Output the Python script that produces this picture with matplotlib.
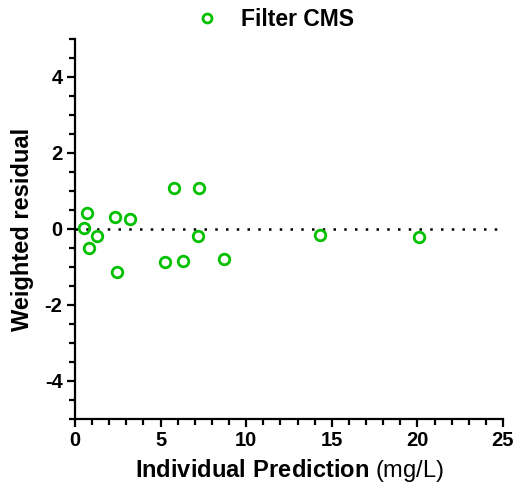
import matplotlib
matplotlib.use("Agg")
import matplotlib.pyplot as plt
from matplotlib.ticker import MultipleLocator

plt.rcParams['font.family'] = ['Liberation Sans', 'DejaVu Sans']
plt.rcParams['mathtext.fontset'] = 'custom'
plt.rcParams['mathtext.bf'] = 'Liberation Sans:bold'
plt.rcParams['mathtext.rm'] = 'Liberation Sans'
plt.rcParams['axes.unicode_minus'] = False

pred = [0.54, 0.68, 0.84, 1.29, 2.32, 2.45, 3.20, 5.26, 5.78, 6.31, 7.17, 7.26, 8.72, 14.29, 20.09]
wres = [0.03, 0.41, -0.50, -0.18, 0.31, -1.12, 0.27, -0.87, 1.07, -0.85, -0.18, 1.07, -0.78, -0.17, -0.22]
series_name = "Filter CMS"
green = "#00C000"

fig = plt.figure(figsize=(5.21, 4.94), dpi=100)
ax = fig.add_axes([75/521, 1-419/494, 428/521, 380/494])

ax.axhline(0, color='black', linestyle=(0, (1, 3.3)), linewidth=1.8, zorder=1)
ax.plot(pred, wres, linestyle='none', marker='o', markersize=7.6, markerfacecolor='none',
        markeredgecolor=green, markeredgewidth=2.0, label=series_name, zorder=3, clip_on=False)

ax.set_xlim(0, 25)
ax.set_ylim(-5, 5)
ax.xaxis.set_major_locator(MultipleLocator(5))
ax.xaxis.set_minor_locator(MultipleLocator(1))
ax.yaxis.set_major_locator(MultipleLocator(2))
ax.yaxis.set_minor_locator(MultipleLocator(0.5))

for s in ['top', 'right']:
    ax.spines[s].set_visible(False)
for s in ['left', 'bottom']:
    ax.spines[s].set_linewidth(1.6)

ax.tick_params(which='major', length=6, width=1.6, labelsize=14.5, pad=3)
ax.tick_params(which='minor', length=4, width=1.6)
for lab in ax.get_xticklabels() + ax.get_yticklabels():
    lab.set_fontweight('bold')

ax.set_ylabel("Weighted residual", fontsize=17, fontweight='bold', labelpad=8)
ax.set_xlabel(r"$\bf{Individual\ Prediction}$ (mg/L)", fontsize=17, labelpad=5)

leg = fig.legend(loc='center', bbox_to_anchor=(269/521, 1-20/494), frameon=False,
                 prop={'size': 16.5, 'weight': 'bold'}, handletextpad=0.45, markerscale=0.85)

fig.savefig("out.png", dpi=100)
